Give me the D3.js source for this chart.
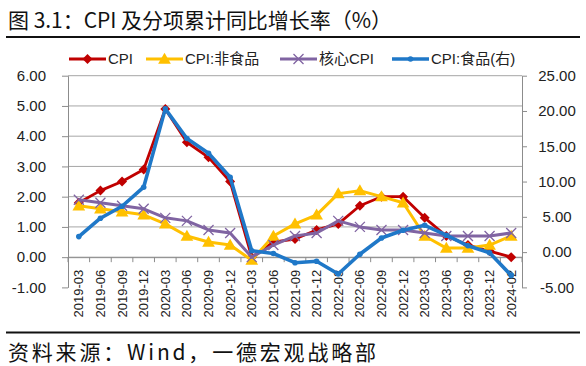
<!DOCTYPE html>
<html><head><meta charset="utf-8">
<script src="https://cdn.jsdelivr.net/npm/d3@7/dist/d3.min.js"></script>
<style>
html,body{margin:0;padding:0;background:#fff;}
svg{display:block;}
</style>
</head><body>
<svg id="chart" width="586" height="366"></svg>
<script>
const categories = ["2019-03","2019-06","2019-09","2019-12","2020-03","2020-06","2020-09","2020-12","2021-03","2021-06","2021-09","2021-12","2022-03","2022-06","2022-09","2022-12","2023-03","2023-06","2023-09","2023-12","2024-02"];
const cpi     = [1.8,2.2,2.5,2.9,4.9,3.8,3.3,2.5,0.0,0.5,0.6,0.9,1.1,1.7,2.0,2.0,1.3,0.7,0.4,0.2,0.0];
const nonFood = [1.7,1.6,1.5,1.4,1.1,0.7,0.5,0.4,-0.1,0.7,1.1,1.4,2.1,2.2,2.0,1.8,0.7,0.3,0.3,0.4,0.7];
const core    = [1.9,1.8,1.7,1.6,1.3,1.2,0.9,0.8,0.0,0.4,0.7,0.8,1.2,1.0,0.9,0.9,0.8,0.7,0.7,0.7,0.8];
const food    = [2.2,4.8,6.5,9.2,20.3,16.1,14.0,10.6,0.2,-0.2,-1.5,-1.3,-3.1,-0.3,2.0,3.1,3.8,2.4,0.9,-0.1,-3.3];
const leftTicks  = [-1,0,1,2,3,4,5,6];
const rightTicks = [-5,0,5,10,15,20,25];
const seriesNames = ["CPI","CPI:非食品","核心CPI","CPI:食品(右)"];
const titleText = "图 3.1：CPI 及分项累计同比增长率（%）";
const sourceText = "资料来源：Wind，一德宏观战略部";

const svg = d3.select("#chart");
const L = 68, R = 522, T = 75.7, B = 287.4;
const x = d3.scaleBand().domain(categories).range([L, R]);
const yL = d3.scaleLinear().domain([-1, 6]).range([B, T]);
const yR = d3.scaleLinear().domain([-5, 25]).range([B, T]);
const fmt = v => v.toFixed(2);
const gridCol = "#a6a6a6", axisCol = "#8c8c8c";
const numFont = "'Liberation Sans', Arial, sans-serif";

// title
svg.append("text").attr("x", 8).attr("y", 28)
  .attr("font-family", "'Noto Sans CJK SC', sans-serif").attr("font-size", 21)
  .attr("textLength", 384).attr("lengthAdjust", "spacing")
  .attr("fill", "#111").text(titleText);
svg.append("line").attr("x1", 6).attr("x2", 580).attr("y1", 37).attr("y2", 37)
  .attr("stroke", "#111").attr("stroke-width", 2.2);

// gridlines
svg.append("g").selectAll("line").data(leftTicks.filter(d => d >= 0)).join("line")
  .attr("x1", L).attr("x2", R).attr("y1", d => yL(d)).attr("y2", d => yL(d))
  .attr("stroke", gridCol).attr("stroke-width", 1);

// left axis
const gLeft = svg.append("g").attr("transform", `translate(${L},0)`)
  .call(d3.axisLeft(yL).tickValues(leftTicks).tickFormat(fmt).tickSize(6).tickPadding(16).tickSizeOuter(0));
// right axis
const gRight = svg.append("g").attr("transform", `translate(${R},0)`)
  .call(d3.axisRight(yR).tickValues(rightTicks).tickFormat(fmt).tickSize(5).tickPadding(15).tickSizeOuter(0));
[gLeft, gRight].forEach(g => {
  g.select(".domain").attr("stroke", axisCol);
  g.selectAll(".tick line").attr("stroke", axisCol);
  g.selectAll(".tick text").attr("font-family", numFont).attr("font-size", 15).attr("fill", "#222");
});
gRight.selectAll(".tick text").attr("text-anchor", "middle").attr("x", 35);

// category axis at zero
const y0 = yL(0);
const gX = svg.append("g").attr("transform", `translate(0,${y0})`)
  .call(d3.axisBottom(x).tickSize(0).tickSizeOuter(0).tickFormat(""));
gX.select(".domain").attr("stroke", axisCol);
const bounds = d3.range(categories.length + 1).map(i => L + i * x.step());
gX.selectAll(".btick").data(bounds).join("line").attr("class", "btick")
  .attr("x1", d => d).attr("x2", d => d).attr("y1", 0).attr("y2", 5).attr("stroke", axisCol);
gX.selectAll(".xlab").data(categories).join("text").attr("class", "xlab")
  .attr("transform", d => `translate(${x(d) + x.bandwidth() / 2},12.5) rotate(-90)`)
  .attr("text-anchor", "end").attr("dy", "0.35em")
  .attr("font-family", numFont).attr("font-size", 13).attr("fill", "#222")
  .text(d => d);

// series
const cx = c => x(c) + x.bandwidth() / 2;
const series = [
  {name: seriesNames[0], vals: cpi, y: yL, color: "#C00000", w: 2.8, marker: "diamond"},
  {name: seriesNames[1], vals: nonFood, y: yL, color: "#FFC000", w: 3, marker: "triangle"},
  {name: seriesNames[2], vals: core, y: yL, color: "#8064A2", w: 3, marker: "x"},
  {name: seriesNames[3], vals: food, y: yR, color: "#1F78C8", w: 3.6, marker: "circle"}
];
function drawMarker(g, type, color, px, py) {
  if (type === "diamond") {
    g.append("path").attr("d", `M${px},${py-5}L${px+5},${py}L${px},${py+5}L${px-5},${py}Z`).attr("fill", color);
  } else if (type === "triangle") {
    g.append("path").attr("d", d3.symbol(d3.symbolTriangle, 70)()).attr("transform", `translate(${px},${py+1})`).attr("fill", color);
  } else if (type === "x") {
    const s = 5;
    g.append("path").attr("d", `M${px-s},${py-s}L${px+s},${py+s}M${px-s},${py+s}L${px+s},${py-s}`)
      .attr("stroke", color).attr("stroke-width", 1.3).attr("fill", "none");
  } else {
    g.append("circle").attr("cx", px).attr("cy", py).attr("r", 2.8).attr("fill", color);
  }
}
series.forEach(s => {
  const g = svg.append("g");
  const line = d3.line().x((d, i) => cx(categories[i])).y(d => s.y(d));
  g.append("path").datum(s.vals).attr("d", line).attr("fill", "none")
    .attr("stroke", s.color).attr("stroke-width", s.w).attr("stroke-linejoin", "round");
  s.vals.forEach((v, i) => drawMarker(g, s.marker, s.color, cx(categories[i]), s.y(v)));
});

// legend
const legX = [69, 146, 280, 392];
const legY = 59;
series.forEach((s, i) => {
  const g = svg.append("g");
  g.append("line").attr("x1", legX[i]).attr("x2", legX[i] + 37).attr("y1", legY).attr("y2", legY)
    .attr("stroke", s.color).attr("stroke-width", s.w);
  drawMarker(g, s.marker, s.color, legX[i] + 18.5, legY);
  g.append("text").attr("x", legX[i] + 39).attr("y", legY).attr("dy", "0.36em")
    .attr("font-family", "'Liberation Sans', 'Noto Sans CJK SC', sans-serif").attr("font-size", 15)
    .attr("fill", "#222").text(s.name);
});

// footer
svg.append("line").attr("x1", 6).attr("x2", 580).attr("y1", 332.5).attr("y2", 332.5)
  .attr("stroke", "#111").attr("stroke-width", 2.2);
svg.append("text").attr("x", 8).attr("y", 360)
  .attr("font-family", "'Noto Sans CJK SC', sans-serif").attr("font-size", 21)
  .attr("textLength", 368).attr("lengthAdjust", "spacing")
  .attr("fill", "#111").text(sourceText);
</script>
</body></html>
